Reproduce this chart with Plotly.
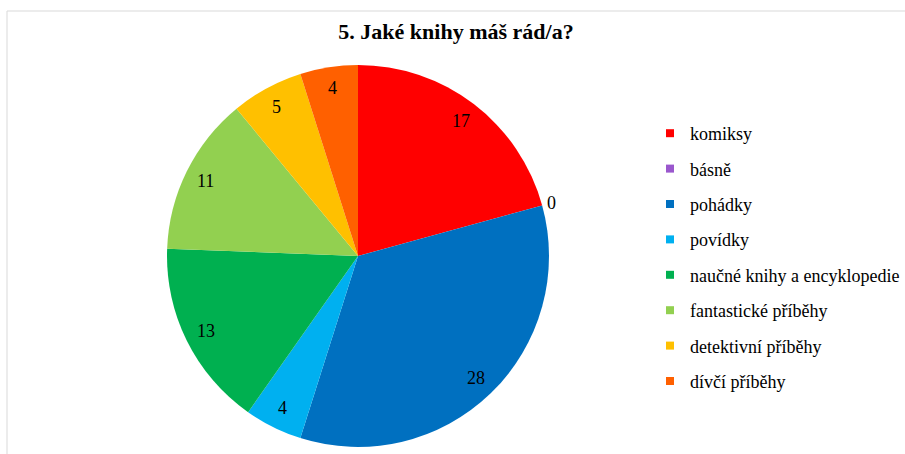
import math
import plotly.graph_objects as go

# Survey answers: favourite book types
categories = [
    "komiksy",
    "básně",
    "pohádky",
    "povídky",
    "naučné knihy a encyklopedie",
    "fantastické příběhy",
    "detektivní příběhy",
    "dívčí příběhy",
]
counts = [17, 0, 28, 4, 13, 11, 5, 4]
colors = ["#FF0000", "#9A57CD", "#0070C0", "#00B0F0",
          "#00B050", "#92D050", "#FFC000", "#FF6000"]

W, H = 905, 454
SERIF = "Liberation Serif, Times New Roman, serif"

# pie geometry in pixels (centre and radius)
cx, cy, R = 358, 256, 191

fig = go.Figure()
fig.add_trace(go.Pie(
    labels=categories,
    values=counts,
    marker=dict(colors=colors, line=dict(width=0)),
    sort=False,
    direction="clockwise",
    rotation=0,
    textinfo="none",
    hoverinfo="label+value",
    showlegend=False,
    domain=dict(x=[(cx - R) / W, (cx + R) / W],
                y=[(H - cy - R) / H, (H - cy + R) / H]),
))

# legend entries as square swatches
for i, (lab, col) in enumerate(zip(categories, colors)):
    fig.add_trace(go.Scatter(
        x=[None], y=[None], mode="markers", name=lab,
        marker=dict(symbol="square", size=8, color=col),
        legendgroup=str(i), showlegend=True,
    ))

# value labels placed near the outer rim of each slice
total = sum(counts)
annotations = []
acc = 0
for v in counts:
    mid = (acc + v / 2) / total * 2 * math.pi
    acc += v
    rr = 1.05 * R if v == 0 else 0.89 * R
    px = cx + rr * math.sin(mid)
    py = cy - rr * math.cos(mid)
    annotations.append(dict(
        x=px / W, y=1 - py / H, xref="paper", yref="paper",
        text=str(v), showarrow=False,
        font=dict(family=SERIF, size=18, color="#000000"),
        xanchor="center", yanchor="middle",
    ))

fig.update_layout(
    width=W, height=H,
    margin=dict(l=0, r=0, t=0, b=0, autoexpand=False),
    paper_bgcolor="white", plot_bgcolor="white",
    title=dict(text="<b>5. Jaké knihy máš rád/a?</b>",
               font=dict(family=SERIF, size=22, color="#000000"),
               x=456 / W, xanchor="center", y=1 - 31 / H, yanchor="middle"),
    xaxis=dict(visible=False), yaxis=dict(visible=False),
    legend=dict(x=650 / W, y=1 - 115 / H, xanchor="left", yanchor="top",
                font=dict(family=SERIF, size=18, color="#000000"),
                tracegroupgap=9, itemwidth=30, bgcolor="rgba(0,0,0,0)"),
    annotations=annotations,
    shapes=[
        dict(type="line", xref="paper", yref="paper",
             x0=7 / W, x1=1, y0=1 - 11 / H, y1=1 - 11 / H,
             line=dict(color="#D9D9D9", width=1)),
        dict(type="line", xref="paper", yref="paper",
             x0=7 / W, x1=7 / W, y0=0, y1=1 - 11 / H,
             line=dict(color="#D9D9D9", width=1)),
    ],
)

fig.write_html("out.html")
